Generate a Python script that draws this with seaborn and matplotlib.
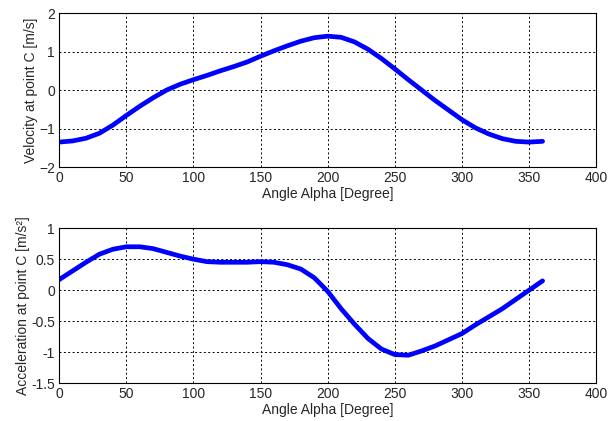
import matplotlib
matplotlib.use("Agg")
import matplotlib.pyplot as plt
import seaborn as sns
import numpy as np

# angle in degrees, every 10 degrees
alpha = np.arange(0, 361, 10)

velocity = [-1.35, -1.32, -1.25, -1.12, -0.91, -0.66, -0.42, -0.20, 0.00, 0.15,
            0.27, 0.38, 0.50, 0.61, 0.73, 0.88, 1.02, 1.15, 1.27, 1.36,
            1.40, 1.37, 1.25, 1.06, 0.82, 0.55, 0.27, 0.00, -0.27, -0.52,
            -0.77, -0.98, -1.14, -1.26, -1.33, -1.35, -1.33]

acceleration = [0.17, 0.31, 0.45, 0.58, 0.66, 0.70, 0.70, 0.67, 0.61, 0.55,
                0.50, 0.46, 0.45, 0.45, 0.45, 0.46, 0.45, 0.41, 0.34, 0.20,
                -0.02, -0.30, -0.55, -0.78, -0.95, -1.04, -1.05, -0.98, -0.90, -0.80,
                -0.70, -0.56, -0.43, -0.30, -0.15, 0.00, 0.15]

sns.set_style("white")
plt.rcParams['font.family'] = ['Liberation Sans', 'DejaVu Sans']
plt.rcParams['font.size'] = 10

fig = plt.figure(figsize=(6.16, 4.21), dpi=100)
ax1 = fig.add_axes([0.096, 0.603, 0.872, 0.366])
ax2 = fig.add_axes([0.096, 0.090, 0.872, 0.368])

sns.lineplot(x=alpha, y=velocity, ax=ax1, color='#0000ff', linewidth=3.4)
sns.lineplot(x=alpha, y=acceleration, ax=ax2, color='#0000ff', linewidth=3.4)

ax1.set_ylim(-2, 2)
ax1.set_yticks([-2, -1, 0, 1, 2])
ax2.set_ylim(-1.5, 1)
ax2.set_yticks([-1.5, -1, -0.5, 0, 0.5, 1])
ax2.set_yticklabels(['-1.5', '-1', '-0.5', '0', '0.5', '1'])

for ax in (ax1, ax2):
    ax.set_xlim(0, 400)
    ax.set_xticks(range(0, 401, 50))
    ax.grid(True, color='black', linestyle=(0, (2, 2.5)), linewidth=0.7)
    ax.tick_params(direction='in', length=3, color='black', labelsize=10, pad=3)
    for s in ax.spines.values():
        s.set_color('black')
        s.set_linewidth(0.8)
    ax.set_xlabel('Angle Alpha [Degree]', labelpad=1.5)

ax1.set_ylabel('Velocity at point C [m/s]', labelpad=1)
ax2.set_ylabel('Acceleration at point C [m/s²]', labelpad=1)

fig.savefig('out.png', dpi=100)
